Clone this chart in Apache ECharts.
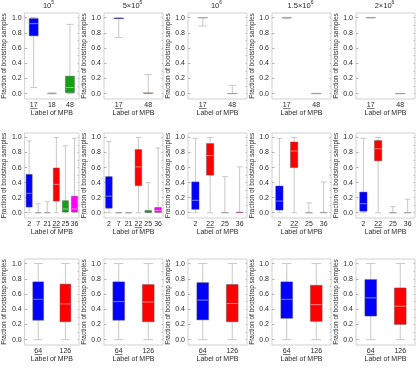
<!DOCTYPE html>
<html><head><meta charset="utf-8">
<script src="https://cdn.jsdelivr.net/npm/echarts@6/dist/echarts.min.js"></script>
<style>html,body{margin:0;padding:0;background:#fff}#c{width:417px;height:369px}</style>
</head><body><div id="c"></div>
<script>
// ---------- data ----------
const columnTitles = ['10{s|5}', '5×10{s|5}', '10{s|6}', '1.5×10{s|6}', '2×10{s|6}'];
const yTickValues = [0, 0.2, 0.4, 0.6, 0.8, 1.0];
const yMinorTickValues = [0, 0.1, 0.2, 0.3, 0.4, 0.5, 0.6, 0.7, 0.8, 0.9, 1.0];
const underlinedLabels = ['17', '22', '64'];
const yAxisTitle = 'Fraction of bootstrap samples';
const xAxisTitle = 'Label of MPB';

// categories
const catsRow1First = ['17', '18', '48'];
const catsRow1 = ['17', '48'];
const catsRow2Wide = ['2', '7', '21', '22', '25', '36'];
const catsRow2 = ['2', '22', '25', '36'];
const catsRow3 = ['64', '126'];

// box values: [low whisker, Q1, median, Q3, high whisker]
const row1Col1 = [[0.08, 0.76, 0.92, 0.987, 1.0], [0, 0, 0, 0.003, 0.01], [0.0, 0.013, 0.08, 0.23, 0.91]];
const row1Col2 = [[0.737, 0.983, 0.99, 0.995, 1.0], [0, 0.003, 0.007, 0.012, 0.25]];
const row1Col3 = [[0.89, 0.995, 0.998, 1.0, 1.0], [0, 0, 0.002, 0.004, 0.11]];
const row1Col4 = [[0.985, 0.997, 0.999, 1.0, 1.0], [0, 0, 0, 0.002, 0.004]];
const row1Col5 = [[0.995, 0.998, 1.0, 1.0, 1.0], [0, 0, 0, 0.001, 0.002]];

const row2Col1 = [[0, 0.075, 0.257, 0.51, 0.955], [0, 0, 0, 0, 0.12], [0, 0, 0, 0, 0.147],
                  [0, 0.155, 0.377, 0.595, 1.0], [0, 0.01, 0.05, 0.16, 0.89], [0, 0.01, 0.05, 0.22, 0.99]];
const row2Col2 = [[0, 0.06, 0.22, 0.48, 0.95], [0, 0, 0, 0, 0], [0, 0, 0, 0, 0],
                  [0, 0.36, 0.61, 0.84, 1.0], [0, 0.003, 0.012, 0.03, 0.40], [0, 0.005, 0.03, 0.07, 0.86]];
const row2Col3 = [[0, 0.045, 0.165, 0.41, 0.99], [0, 0.50, 0.76, 0.92, 1.0], [0, 0, 0, 0.002, 0.48], [0, 0, 0.003, 0.01, 0.61]];
const row2Col4 = [[0, 0.035, 0.155, 0.355, 0.99], [0, 0.60, 0.82, 0.94, 1.0], [0, 0, 0, 0, 0.13], [0, 0, 0.001, 0.004, 0.41]];
const row2Col5 = [[0, 0.02, 0.12, 0.275, 0.99], [0, 0.69, 0.85, 0.96, 1.0], [0, 0, 0, 0, 0.08], [0, 0, 0, 0, 0.18]];

const row3Col1 = [[0, 0.255, 0.53, 0.76, 1.0], [0, 0.235, 0.47, 0.73, 1.0]];
const row3Col2 = [[0, 0.255, 0.50, 0.76, 1.0], [0, 0.235, 0.495, 0.725, 1.0]];
const row3Col3 = [[0, 0.26, 0.52, 0.75, 1.0], [0, 0.235, 0.475, 0.725, 1.0]];
const row3Col4 = [[0, 0.28, 0.53, 0.76, 1.0], [0, 0.24, 0.46, 0.715, 1.0]];
const row3Col5 = [[0, 0.31, 0.55, 0.79, 1.0], [0, 0.20, 0.44, 0.68, 1.0]];

// ---------- styles ----------
const BLUE = '#0000ff', RED = '#ff0000', GREEN = '#14a014', MAGENTA = '#ff00ff', GREY = '#a8a8a8';
const rowTops = [13, 133, 259];
const rowHeights = [86, 85, 86];
const colLefts = [20, 104, 188, 272, 356];
const gridWidth = 59;
const Y_MIN = -0.07, Y_MAX = 1.06;
const FONT = 'Liberation Sans';
const TXT = '#2a2a2a';

const panels = [
  {row: 0, col: 0, cats: catsRow1First, vals: row1Col1, colors: [BLUE, GREY, GREEN], frac: 0.5},
  {row: 0, col: 1, cats: catsRow1, vals: row1Col2, colors: ['#2a2aa0', '#a03c3c'], frac: 0.34},
  {row: 0, col: 2, cats: catsRow1, vals: row1Col3, colors: [GREY, GREY], frac: 0.34},
  {row: 0, col: 3, cats: catsRow1, vals: row1Col4, colors: [GREY, GREY], frac: 0.34},
  {row: 0, col: 4, cats: catsRow1, vals: row1Col5, colors: [GREY, GREY], frac: 0.34},
  {row: 1, col: 0, cats: catsRow2Wide, vals: row2Col1, colors: [BLUE, GREY, GREY, RED, GREEN, MAGENTA], frac: 0.68},
  {row: 1, col: 1, cats: catsRow2Wide, vals: row2Col2, colors: [BLUE, GREY, GREY, RED, GREEN, MAGENTA], frac: 0.68},
  {row: 1, col: 2, cats: catsRow2, vals: row2Col3, colors: [BLUE, RED, GREY, '#a040a0'], frac: 0.5},
  {row: 1, col: 3, cats: catsRow2, vals: row2Col4, colors: [BLUE, RED, GREY, GREY], frac: 0.5},
  {row: 1, col: 4, cats: catsRow2, vals: row2Col5, colors: [BLUE, RED, GREY, GREY], frac: 0.5},
  {row: 2, col: 0, cats: catsRow3, vals: row3Col1, colors: [BLUE, RED], frac: 0.4},
  {row: 2, col: 1, cats: catsRow3, vals: row3Col2, colors: [BLUE, RED], frac: 0.4},
  {row: 2, col: 2, cats: catsRow3, vals: row3Col3, colors: [BLUE, RED], frac: 0.4},
  {row: 2, col: 3, cats: catsRow3, vals: row3Col4, colors: [BLUE, RED], frac: 0.4},
  {row: 2, col: 4, cats: catsRow3, vals: row3Col5, colors: [BLUE, RED], frac: 0.4}
];

function makeRender(panel) {
  return function (params, api) {
    const i = api.value(0);
    const lo = api.coord([i, api.value(1)]);
    const q1 = api.coord([i, api.value(2)]);
    const md = api.coord([i, api.value(3)]);
    const q3 = api.coord([i, api.value(4)]);
    const hi = api.coord([i, api.value(5)]);
    const band = api.size([1, 0])[0];
    const bw = band * panel.frac;
    const cw = bw * 0.8;
    const x = lo[0];
    const wh = {stroke: '#c8c8c8', lineWidth: 1};
    const realH = q1[1] - q3[1];
    const thin = realH < 2;
    const h = Math.max(realH, 0.8);
    const children = [
      {type: 'line', shape: {x1: x, y1: lo[1], x2: x, y2: hi[1]}, style: wh},
      {type: 'line', shape: {x1: x - cw / 2, y1: lo[1], x2: x + cw / 2, y2: lo[1]}, style: wh},
      {type: 'line', shape: {x1: x - cw / 2, y1: hi[1], x2: x + cw / 2, y2: hi[1]}, style: wh},
      {type: 'rect', shape: {x: x - bw / 2, y: q3[1] - (h - realH) / 2, width: bw, height: h},
       style: {fill: panel.colors[params.dataIndex],
               stroke: thin ? 'rgba(120,120,120,0.35)' : 'rgba(90,90,90,0.55)',
               lineWidth: thin ? 0.5 : 0.8}}
    ];
    if (realH > 3) {
      children.push({type: 'line', shape: {x1: x - bw / 2 + 0.5, y1: md[1], x2: x + bw / 2 - 0.5, y2: md[1]},
        style: {stroke: 'rgba(255,255,255,0.5)', lineWidth: 1}});
    }
    if (underlinedLabels.indexOf(panel.cats[i]) >= 0) {
      const bottom = api.coord([i, Y_MIN])[1];
      const half = panel.cats[i].length * 1.9;
      children.push({type: 'line', shape: {x1: x - half, y1: bottom + 9.5, x2: x + half, y2: bottom + 9.5},
        style: {stroke: TXT, lineWidth: 0.6}});
    }
    return {type: 'group', children};
  };
}

const option = {
  animation: false,
  textStyle: {fontFamily: FONT},
  title: columnTitles.map((t, c) => ({
    text: t, left: colLefts[c] + gridWidth / 2 - 1, top: 0, textAlign: 'center', padding: 0,
    textStyle: {fontFamily: FONT, fontSize: 7.5, fontWeight: 'normal', color: TXT, lineHeight: 11,
      rich: {s: {fontSize: 5, verticalAlign: 'top', lineHeight: 6, fontFamily: FONT, color: TXT}}}
  })),
  grid: [], xAxis: [], yAxis: [], series: []
};

panels.forEach((p, k) => {
  option.grid.push({left: colLefts[p.col], top: rowTops[p.row], width: gridWidth, height: rowHeights[p.row],
    show: true, borderColor: '#d0d0d0', borderWidth: 1, containLabel: false});
  option.xAxis.push({type: 'category', gridIndex: k, data: p.cats, boundaryGap: true,
    axisLine: {show: false}, axisTick: {show: false},
    axisLabel: {interval: 0, fontSize: 7, margin: 3, color: TXT, fontFamily: FONT},
    name: xAxisTitle, nameLocation: 'middle', nameGap: 11,
    nameTextStyle: {fontSize: 7, color: TXT, fontFamily: FONT}});
  option.yAxis.push({type: 'value', gridIndex: k, min: Y_MIN, max: Y_MAX, position: 'left',
    axisLine: {show: false}, splitLine: {show: false},
    axisTick: {show: true, inside: true, length: 2.5, customValues: yTickValues, lineStyle: {color: '#b0b0b0'}},
    axisLabel: {customValues: yTickValues, formatter: v => v.toFixed(1), fontSize: 7, margin: 3, color: TXT, fontFamily: FONT},
    name: yAxisTitle, nameLocation: 'middle', nameGap: 12,
    nameTextStyle: {fontSize: 6.5, color: TXT, fontFamily: FONT}});
  option.yAxis.push({type: 'value', gridIndex: k, min: Y_MIN, max: Y_MAX, position: 'right',
    axisLine: {show: false}, splitLine: {show: false}, axisLabel: {show: false},
    axisTick: {show: true, inside: true, length: 1.5, customValues: yMinorTickValues, lineStyle: {color: '#c0c0c0'}}});
  option.series.push({type: 'custom', xAxisIndex: k, yAxisIndex: 2 * k, clip: false,
    renderItem: makeRender(p),
    encode: {x: 0, y: [1, 2, 3, 4, 5]},
    data: p.vals.map((v, i) => [i].concat(v))});
});

const chart = echarts.init(document.getElementById('c'), null, {renderer: 'canvas'});
chart.setOption(option);
</script></body></html>
